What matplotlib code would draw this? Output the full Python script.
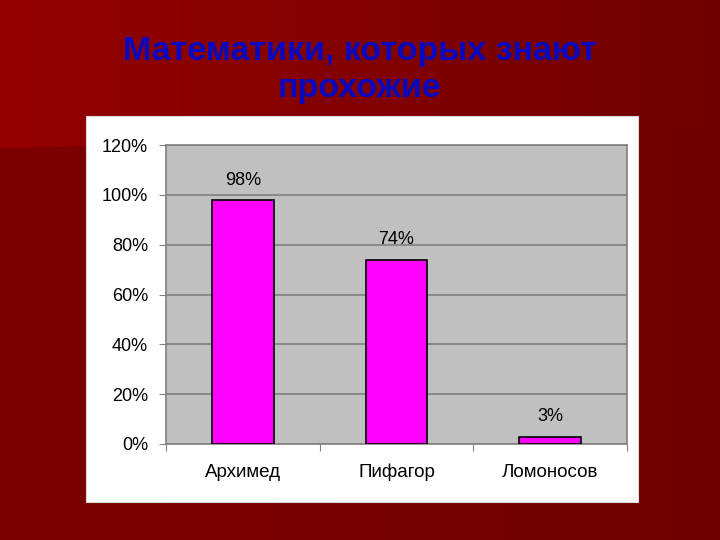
import numpy as np
import matplotlib
matplotlib.use("Agg")
import matplotlib.pyplot as plt
from matplotlib.patches import Rectangle

categories = ["Архимед", "Пифагор", "Ломоносов"]
values = [98, 74, 3]
yticks = [0, 20, 40, 60, 80, 100, 120]
title = "Математики, которых знают\nпрохожие"

plt.rcParams['font.family'] = ['Liberation Sans', 'DejaVu Sans']

fig = plt.figure(figsize=(7.2, 5.4), dpi=100)

# background
bg = fig.add_axes([0, 0, 1, 1], zorder=-10)
px = np.arange(720)
py = np.arange(540)
PX, PY = np.meshgrid(px, py)
t = PX / 719
base = 0.49 - 0.05 * t
upper = PY < (148 - 0.03 * PX)
r = np.where(upper, 0.58 - 0.14 * t, base)
img = np.dstack([r, np.zeros_like(r), np.zeros_like(r)])
bg.imshow(img, aspect='auto', extent=[0, 1, 0, 1], origin='upper')
bg.set_xlim(0, 1); bg.set_ylim(0, 1)
bg.axis('off')

# white chart box
fig.patches.append(Rectangle((86/720, 1-502/540), 552/720, 386/540,
                             transform=fig.transFigure, facecolor='white',
                             edgecolor='#d8d8d8', lw=0.8, zorder=-5))

fig.text(0.5, 1 - 70/540, title, ha='center', va='center', fontsize=24.5,
         fontweight='bold', color='#0808c0', linespacing=1.25)

ax = fig.add_axes([166/720, 1-444/540, 461/720, 299/540])
ax.set_facecolor('#c0c0c0')
x = np.arange(len(categories))
ax.bar(x, values, width=0.40, color='#ff00ff', edgecolor='black', lw=1.2, zorder=3)
for xi, v in zip(x, values):
    ax.text(xi, v + 4.5, f"{v}%", ha='center', va='bottom', fontsize=13)
ax.set_xlim(-0.5, 2.5)
ax.set_ylim(0, 120)
ax.set_yticks(yticks)
ax.set_yticklabels([f"{t}%" for t in yticks], fontsize=13)
ax.yaxis.grid(True, color='#808080', lw=1.2, zorder=0)
ax.set_axisbelow(True)
ax.set_xticks([-0.5, 0.5, 1.5, 2.5])
ax.set_xticklabels([])
for xi, c in zip(x, categories):
    ax.text(xi, -0.11, c, transform=ax.get_xaxis_transform(), ha='center',
            va='baseline', fontsize=13.5)
ax.tick_params(axis='x', which='major', length=5, color='#808080')
ax.tick_params(axis='y', length=5, color='#808080', pad=8)
for s in ax.spines.values():
    s.set_color('#808080')
    s.set_linewidth(1.2)

fig.savefig("out.png", dpi=100)
